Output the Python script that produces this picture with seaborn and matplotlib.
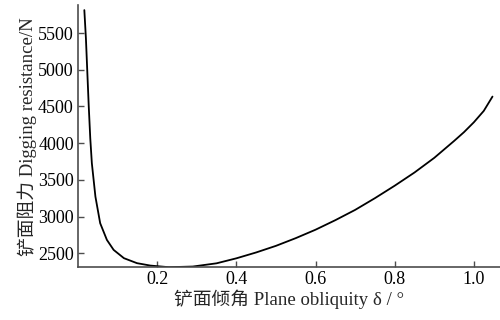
import numpy as np
import pandas as pd
import matplotlib
matplotlib.use("Agg")
import matplotlib.pyplot as plt
import seaborn as sns

# values
obliquity = [0.016, 0.020, 0.0235, 0.027, 0.031, 0.035, 0.044, 0.056, 0.073, 0.090,
             0.116, 0.149, 0.183, 0.23, 0.29, 0.35, 0.40, 0.45, 0.50, 0.55,
             0.60, 0.65, 0.70, 0.75, 0.80, 0.85, 0.90, 0.95, 0.975, 1.00,
             1.025, 1.047]
resistance = [5814, 5428, 4973, 4520, 4066, 3726, 3271, 2909, 2681, 2545,
              2432, 2364, 2331, 2309, 2318, 2362, 2430, 2510, 2600, 2705,
              2820, 2950, 3090, 3250, 3420, 3600, 3800, 4030, 4150, 4285,
              4440, 4635]
x_ticks = [0.2, 0.4, 0.6, 0.8, 1.0]
y_ticks = [2500, 3000, 3500, 4000, 4500, 5000, 5500]

df = pd.DataFrame({"delta": obliquity, "force": resistance})

sns.set_style("ticks")
plt.rcParams["font.family"] = ["Liberation Serif", "Noto Sans CJK SC"]

fig = plt.figure(figsize=(5, 3.2), dpi=100)
ax = fig.add_axes([0.156, 0.165, 0.844, 0.819])

sns.lineplot(data=df, x="delta", y="force", color="black", linewidth=1.3, ax=ax)

ax.set_xlim(0.0, 1.066)
ax.set_ylim(2309, 5882)
ax.set_xticks(x_ticks)
ax.set_xticklabels([f"{v:.1f}" for v in x_ticks])
ax.set_yticks(y_ticks)

sns.despine(ax=ax)
for s in ["left", "bottom"]:
    ax.spines[s].set_color("#4d4d4d")
    ax.spines[s].set_linewidth(1.2)
ax.tick_params(direction="in", length=4, width=1, colors="#4d4d4d",
               labelcolor="black", labelsize=13, pad=3)

ax.set_xlabel("铲面倾角 Plane obliquity δ / °", fontsize=13.5, labelpad=1)
ax.set_ylabel("铲面阻力 Digging resistance/N", fontsize=13.5, labelpad=1)

fig.savefig("out.png", dpi=100)
